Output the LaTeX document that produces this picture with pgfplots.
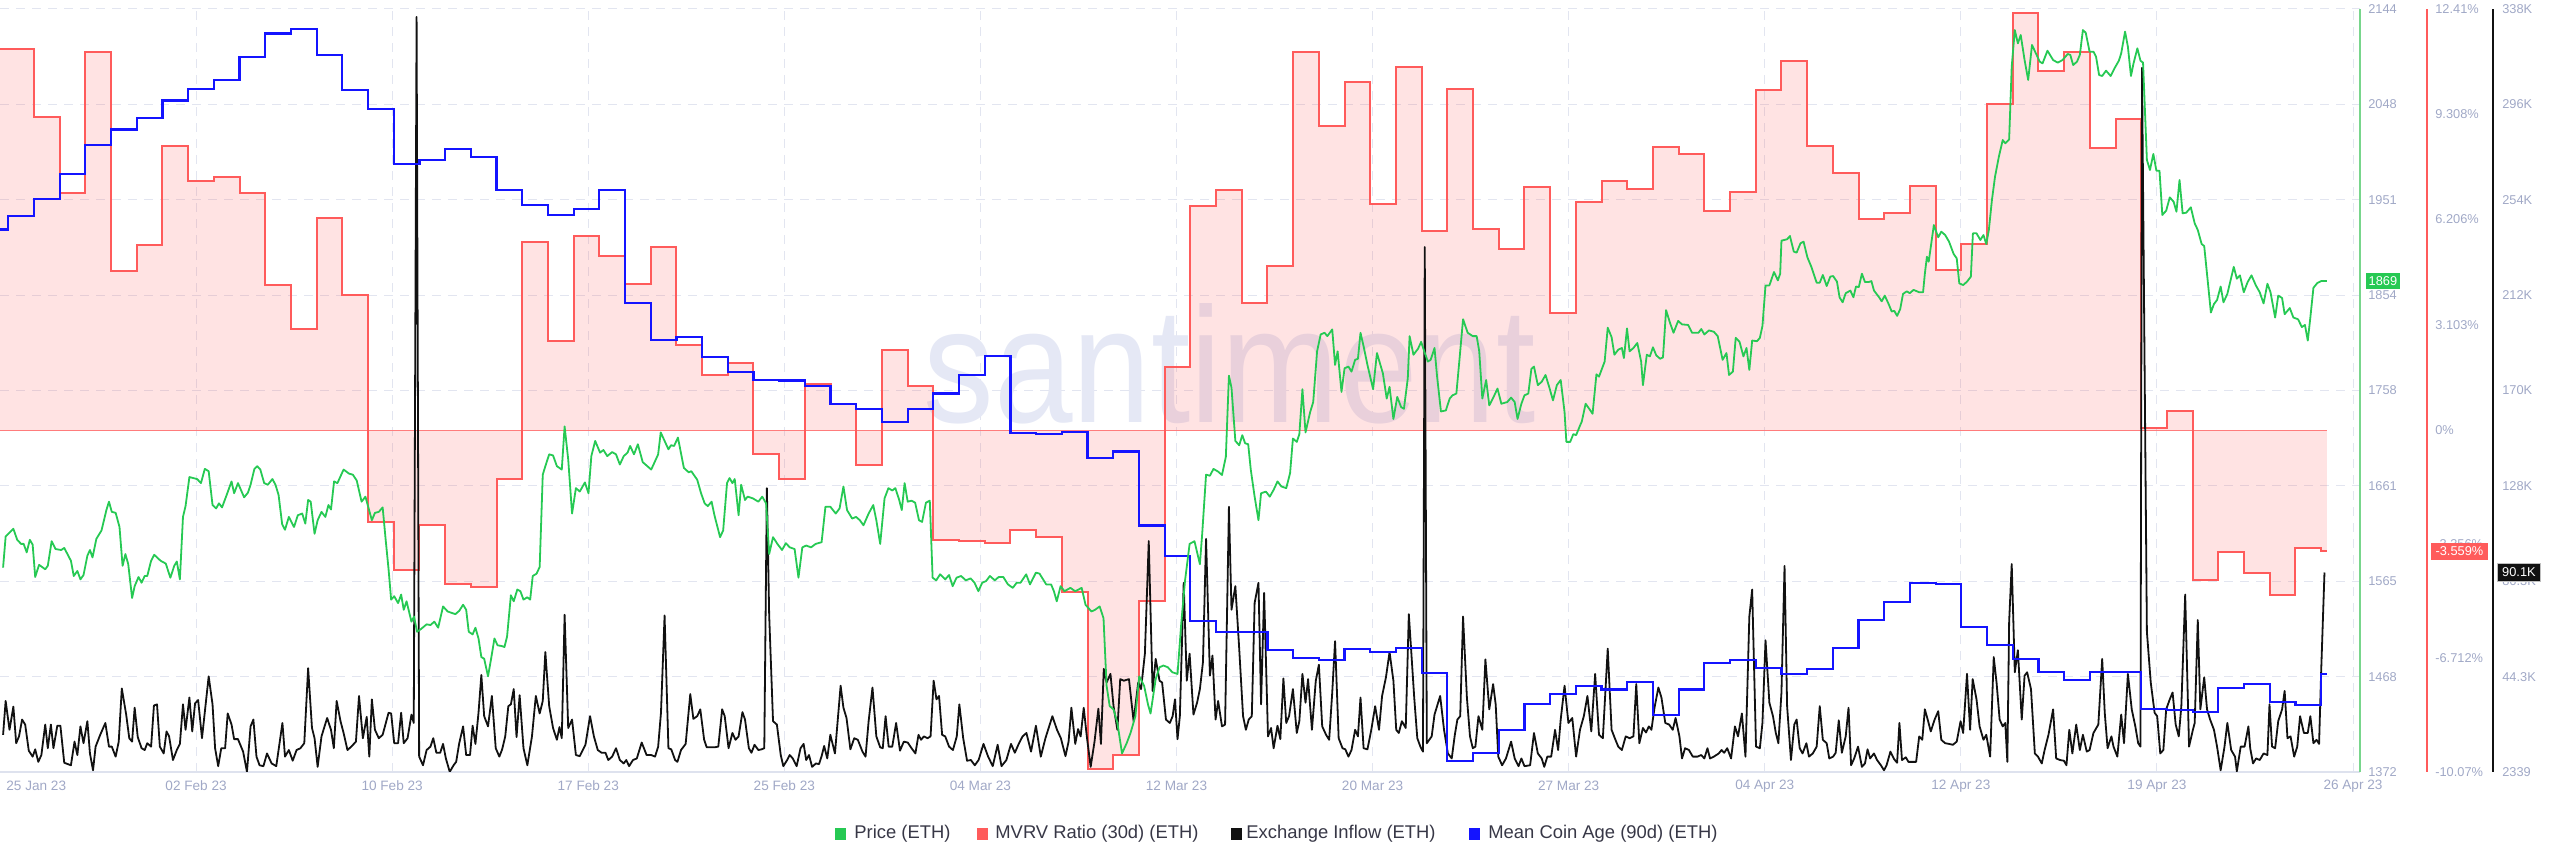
\documentclass[border=0pt]{standalone}
\usepackage{graphicx}
\usepackage{pgfplots}
\pgfplotsset{compat=1.18}
\usepackage{fontspec}
\setmainfont{Liberation Sans}

\definecolor{pricecol}{RGB}{38,201,83}
\definecolor{priceaxis}{RGB}{120,214,140}
\definecolor{mvrvcol}{RGB}{255,91,91}
\definecolor{flowcol}{RGB}{17,17,17}
\definecolor{agecol}{RGB}{20,20,255}
\definecolor{tickcol}{RGB}{160,168,198}
\definecolor{gridcol}{RGB}{226,229,240}
\definecolor{basecol}{RGB}{222,226,238}
\definecolor{wmcol}{RGB}{229,232,245}
\definecolor{legcol}{RGB}{55,55,70}

\pgfplotsset{
  base/.style={scale only axis, width=1180pt, height=381.5pt,
    at={(0pt,47.5pt)}, anchor=south west, xmin=0, xmax=91.83,
    clip mode=individual},
  hidden/.style={base, hide x axis, hide y axis},
  ticks/.style={/pgf/number format/assume math mode=true,
    tick label style={font=\fontsize{6.4}{7.5}\selectfont, text=tickcol},
    major tick length=0pt},
}

\begin{document}
\begin{tikzpicture}

% grid, date labels, price scale
\begin{axis}[base, ticks, ymin=1372, ymax=2144,
  axis x line*=bottom, axis y line*=right,
  x axis line style={draw=basecol, line width=0.6pt},
  y axis line style={draw=priceaxis, line width=0.9pt},
  xtick={7.63,15.26,22.89,30.52,38.15,45.78,53.41,61.04,68.67,76.30,83.93,91.56},
  xticklabels={02 Feb 23,10 Feb 23,17 Feb 23,25 Feb 23,04 Mar 23,12 Mar 23,20 Mar 23,27 Mar 23,04 Apr 23,12 Apr 23,19 Apr 23,26 Apr 23},
  ytick={1372,1468.5,1565,1661.5,1758,1854.5,1951,2047.5,2144},
  yticklabels={1372,1468,1565,1661,1758,1854,1951,2048,2144},
  grid=major,
  major grid style={draw=gridcol, dash pattern=on 4.5pt off 3.5pt, line width=0.5pt},
  xticklabel style={font=\fontsize{6.8}{8}\selectfont, anchor=center, yshift=-7pt, inner sep=0pt},
  yticklabel style={anchor=west, xshift=4pt, inner sep=0pt},
]
\end{axis}

% watermark
\node[anchor=base west, inner sep=0pt, text=wmcol] at (461.5pt,222pt)
  {\resizebox{306pt}{59.5pt}{santiment}};

% MVRV Ratio (30d)
\begin{axis}[base, ticks, ymin=-10.07, ymax=12.41, hide x axis,
  axis y line*=right, y axis line style={draw=none},
  ytick={-10.07,-6.712,-3.356,0,3.103,6.206,9.308,12.41},
  yticklabels={-10.07\%,-6.712\%,-3.356\%,0\%,3.103\%,6.206\%,9.308\%,12.41\%},
  yticklabel style={anchor=west, xshift=37.5pt, inner sep=0pt},
]
\addplot[const plot, draw=none, fill=mvrvcol, fill opacity=0.17] coordinates {
(0,11.23) (1.32,9.23) (2.32,6.99) (3.32,11.14) (4.32,4.69) (5.32,5.46) (6.32,8.37) (7.32,7.34) (8.32,7.46) (9.32,6.99)
(10.32,4.28) (11.32,2.98) (12.32,6.25) (13.32,3.98) (14.32,-2.70) (15.32,-4.12) (16.32,-2.79) (17.32,-4.53) (18.32,-4.62) (19.32,-1.44)
(20.32,5.54) (21.32,2.63) (22.32,5.72) (23.32,5.13) (24.32,4.31) (25.32,5.40) (26.32,2.51) (27.32,1.63) (28.32,1.98) (29.32,-0.70)
(30.32,-1.44) (31.32,1.36) (32.32,0.77) (33.32,-1.03) (34.32,2.36) (35.32,1.30) (36.32,-3.24) (37.32,-3.27) (38.32,-3.31) (39.32,-2.94)
(40.32,-3.16) (41.32,-4.77) (42.32,-9.97) (43.32,-9.57) (44.32,-5.03) (45.32,1.86) (46.32,6.61) (47.32,7.08) (48.32,3.75) (49.32,4.84)
(50.32,11.14) (51.32,8.96) (52.32,10.26) (53.32,6.66) (54.32,10.70) (55.32,5.87) (56.32,10.05) (57.32,5.93) (58.32,5.34) (59.32,7.17)
(60.32,3.45) (61.32,6.72) (62.32,7.34) (63.32,7.11) (64.32,8.34) (65.32,8.14) (66.32,6.46) (67.32,7.02) (68.32,10.02) (69.32,10.88)
(70.32,8.37) (71.32,7.58) (72.32,6.22) (73.32,6.40) (74.32,7.19) (75.32,4.72) (76.32,5.49) (77.32,9.61) (78.32,12.29) (79.32,10.58)
(80.32,11.14) (81.32,8.31) (82.32,9.17) (83.32,0.06) (84.32,0.57) (85.32,-4.41) (86.32,-3.59) (87.32,-4.21) (88.32,-4.86) (89.32,-3.47)
(90.32,-3.56) (90.54,-3.56)} \closedcycle;
\addplot[mvrvcol!80, line width=0.5pt] coordinates {(0,0) (90.54,0)};
\addplot[const plot, mvrvcol, line width=1pt] coordinates {
(0,11.23) (1.32,9.23) (2.32,6.99) (3.32,11.14) (4.32,4.69) (5.32,5.46) (6.32,8.37) (7.32,7.34) (8.32,7.46) (9.32,6.99)
(10.32,4.28) (11.32,2.98) (12.32,6.25) (13.32,3.98) (14.32,-2.70) (15.32,-4.12) (16.32,-2.79) (17.32,-4.53) (18.32,-4.62) (19.32,-1.44)
(20.32,5.54) (21.32,2.63) (22.32,5.72) (23.32,5.13) (24.32,4.31) (25.32,5.40) (26.32,2.51) (27.32,1.63) (28.32,1.98) (29.32,-0.70)
(30.32,-1.44) (31.32,1.36) (32.32,0.77) (33.32,-1.03) (34.32,2.36) (35.32,1.30) (36.32,-3.24) (37.32,-3.27) (38.32,-3.31) (39.32,-2.94)
(40.32,-3.16) (41.32,-4.77) (42.32,-9.97) (43.32,-9.57) (44.32,-5.03) (45.32,1.86) (46.32,6.61) (47.32,7.08) (48.32,3.75) (49.32,4.84)
(50.32,11.14) (51.32,8.96) (52.32,10.26) (53.32,6.66) (54.32,10.70) (55.32,5.87) (56.32,10.05) (57.32,5.93) (58.32,5.34) (59.32,7.17)
(60.32,3.45) (61.32,6.72) (62.32,7.34) (63.32,7.11) (64.32,8.34) (65.32,8.14) (66.32,6.46) (67.32,7.02) (68.32,10.02) (69.32,10.88)
(70.32,8.37) (71.32,7.58) (72.32,6.22) (73.32,6.40) (74.32,7.19) (75.32,4.72) (76.32,5.49) (77.32,9.61) (78.32,12.29) (79.32,10.58)
(80.32,11.14) (81.32,8.31) (82.32,9.17) (83.32,0.06) (84.32,0.57) (85.32,-4.41) (86.32,-3.59) (87.32,-4.21) (88.32,-4.86) (89.32,-3.47)
(90.32,-3.56) (90.54,-3.56)};
\coordinate (mvrvlast) at (axis cs:91.83,-3.559);
\end{axis}

% Exchange Inflow (thousands)
\begin{axis}[base, ticks, ymin=2.339, ymax=338, hide x axis,
  axis y line*=right, y axis line style={draw=none},
  ytick={2.339,44.297,86.254,128.212,170.169,212.127,254.085,296.042,338},
  yticklabels={2339,44.3K,86.3K,128K,170K,212K,254K,296K,338K},
  yticklabel style={anchor=west, xshift=71pt, inner sep=0pt},
]
\addplot[flowcol, line width=0.9pt, line join=round] coordinates {
(0.12,18.7) (0.22,33.6) (0.37,20.9) (0.52,31.1) (0.63,15.0) (0.74,18.0) (0.86,25.4) (0.98,23.2) (1.12,11.7) (1.27,9.1)
(1.37,12.3) (1.49,6.8) (1.61,9.8) (1.76,23.2) (1.86,12.8) (1.98,23.2) (2.08,12.8) (2.23,22.7) (2.35,22.7) (2.50,6.4)
(2.76,5.3) (2.90,15.7) (3.01,9.8) (3.13,22.4) (3.25,15.0) (3.40,24.7) (3.50,10.5) (3.62,3.1) (3.72,13.5) (3.90,18.7)
(4.10,23.9) (4.24,13.5) (4.35,13.5) (4.50,9.1) (4.62,15.7) (4.74,39.1) (4.91,27.6) (5.03,17.2) (5.14,15.7) (5.24,30.6)
(5.36,17.7) (5.51,12.8) (5.63,12.0) (5.73,15.0) (5.88,13.5) (5.99,31.6) (6.11,32.1) (6.22,13.5) (6.37,10.5) (6.48,20.2)
(6.58,18.0) (6.73,7.6) (6.88,12.0) (7.00,14.7) (7.12,32.1) (7.22,20.9) (7.37,35.1) (7.48,20.2) (7.59,32.5) (7.71,34.0)
(7.86,17.2) (8.12,44.4) (8.27,32.1) (8.37,12.8) (8.49,4.9) (8.61,12.8) (8.76,12.8) (8.86,28.1) (9.01,23.2) (9.11,16.8)
(9.26,16.8) (9.46,11.3) (9.61,2.4) (9.75,22.4) (9.86,25.4) (9.98,9.1) (10.10,5.3) (10.25,4.9) (10.39,10.5) (10.57,6.1)
(10.75,4.9) (10.99,23.9) (11.09,9.1) (11.24,12.0) (11.39,7.3) (11.54,12.0) (11.69,12.8) (11.84,15.0) (11.99,48.0) (12.14,21.7)
(12.24,17.2) (12.36,4.6) (12.51,18.0) (12.73,26.1) (12.88,20.9) (12.99,12.8) (13.10,33.6) (13.25,24.7) (13.37,19.5) (13.52,12.0)
(13.67,13.5) (13.85,15.7) (13.97,35.8) (14.12,17.2) (14.27,26.6) (14.37,9.1) (14.47,34.3) (14.59,20.9) (14.74,17.2) (14.89,18.7)
(15.12,28.4) (15.22,28.1) (15.34,15.0) (15.49,15.0) (15.61,28.4) (15.71,15.0) (15.86,17.2) (16.01,27.6) (16.10,23.9) (16.21,334.5)
(16.31,9.1) (16.46,5.3) (16.60,12.0) (16.75,13.5) (16.86,17.2) (16.98,10.8) (17.13,10.8) (17.24,14.7) (17.35,8.3) (17.50,2.4)
(17.65,5.3) (17.75,6.8) (17.87,15.0) (18.02,22.4) (18.14,9.8) (18.29,9.8) (18.39,22.7) (18.50,14.7) (18.62,28.4) (18.73,45.0)
(18.84,26.9) (18.99,22.4) (19.14,35.8) (19.29,12.8) (19.43,9.1) (19.54,12.3) (19.66,18.0) (19.78,31.3) (19.88,32.1) (19.99,38.8)
(20.10,17.7) (20.22,36.1) (20.37,12.8) (20.52,5.3) (20.70,18.0) (20.85,35.8) (21.00,28.1) (21.12,33.6) (21.22,55.1) (21.37,31.3)
(21.52,21.7) (21.67,16.5) (21.77,22.1) (21.86,17.2) (21.97,71.5) (22.11,21.7) (22.26,25.4) (22.41,9.8) (22.56,9.3) (22.78,14.3)
(22.96,26.9) (23.11,18.0) (23.26,12.0) (23.41,10.8) (23.56,10.8) (23.67,7.6) (23.82,9.1) (23.97,12.8) (24.12,7.6) (24.27,6.1)
(24.37,7.6) (24.48,4.9) (24.63,7.6) (24.78,8.3) (24.97,15.3) (25.16,9.8) (25.34,9.8) (25.49,9.1) (25.61,13.5) (25.72,28.4)
(25.86,71.2) (26.01,12.8) (26.12,12.3) (26.27,7.6) (26.36,6.8) (26.50,12.0) (26.68,14.7) (26.86,36.6) (26.98,25.7) (27.13,26.9)
(27.25,29.9) (27.40,16.5) (27.50,13.2) (27.65,13.2) (27.80,13.2) (27.95,13.5) (28.10,29.9) (28.20,26.9) (28.35,12.8) (28.50,19.5)
(28.62,16.5) (28.74,18.0) (28.89,28.7) (28.99,25.4) (29.14,12.8) (29.24,10.8) (29.36,14.3) (29.51,12.0) (29.63,12.3) (29.74,12.8)
(29.84,127.2) (29.93,71.5) (30.08,24.7) (30.23,23.2) (30.38,9.8) (30.48,4.9) (30.63,7.6) (30.73,9.8) (30.85,8.3) (31.00,4.9)
(31.15,12.8) (31.27,14.7) (31.37,7.6) (31.48,9.8) (31.60,4.6) (31.75,6.1) (31.87,5.8) (31.97,9.3) (32.07,13.8) (32.19,8.3)
(32.31,18.7) (32.49,10.5) (32.71,40.3) (32.82,30.6) (32.94,26.1) (33.09,12.3) (33.24,17.2) (33.38,16.5) (33.56,11.3) (33.68,9.1)
(33.80,24.7) (33.95,39.5) (34.10,18.0) (34.25,13.2) (34.35,12.8) (34.46,26.9) (34.58,13.5) (34.72,13.5) (34.87,23.9) (35.02,11.7)
(35.17,15.7) (35.32,15.3) (35.47,12.8) (35.62,10.5) (35.74,18.7) (35.84,16.5) (35.95,18.0) (36.09,17.2) (36.21,18.0) (36.33,42.5)
(36.44,34.3) (36.54,35.8) (36.66,18.7) (36.78,18.0) (36.93,13.5) (37.08,12.0) (37.23,18.0) (37.33,32.1) (37.48,17.2) (37.63,7.3)
(37.78,7.6) (37.93,5.3) (38.08,7.6) (38.27,14.7) (38.45,9.1) (38.63,4.9) (38.82,14.3) (38.97,4.9) (39.16,7.6) (39.34,14.7)
(39.49,10.8) (39.64,14.7) (39.79,18.0) (39.94,19.5) (40.12,11.3) (40.31,22.7) (40.50,9.1) (40.68,17.2) (40.95,26.9) (41.13,20.9)
(41.28,17.2) (41.46,9.3) (41.58,15.7) (41.69,30.6) (41.84,14.7) (41.95,21.2) (42.05,18.0) (42.17,30.6) (42.29,18.0) (42.44,4.6)
(42.59,15.7) (42.74,30.2) (42.84,14.7) (42.95,47.7) (43.06,41.7) (43.21,45.5) (43.33,31.3) (43.48,20.9) (43.59,43.2) (43.73,42.5)
(43.93,43.2) (44.11,24.7) (44.29,41.7) (44.40,38.8) (44.55,54.4) (44.70,103.9) (44.85,38.0) (44.97,52.1) (45.12,42.5) (45.22,41.7)
(45.37,25.4) (45.52,23.9) (45.63,26.9) (45.72,34.3) (45.82,16.8) (45.91,26.9) (46.06,85.6) (46.18,42.5) (46.29,54.4) (46.44,27.6)
(46.58,32.8) (46.69,38.8) (46.81,50.7) (46.93,104.9) (47.08,44.7) (47.18,53.6) (47.30,25.4) (47.40,33.6) (47.55,22.4) (47.67,23.2)
(47.82,119.0) (47.92,73.7) (48.07,84.1) (48.22,56.6) (48.37,26.9) (48.48,20.9) (48.59,25.4) (48.71,26.9) (48.82,76.7) (48.97,85.6)
(49.07,32.1) (49.19,81.1) (49.34,18.0) (49.46,21.7) (49.56,12.8) (49.71,22.7) (49.82,16.8) (49.94,43.5) (50.05,23.9) (50.16,26.9)
(50.31,38.8) (50.46,19.5) (50.56,24.7) (50.68,45.5) (50.80,32.8) (50.90,43.2) (51.05,20.9) (51.20,42.5) (51.32,49.5) (51.45,22.4)
(51.60,18.7) (51.72,16.5) (51.84,37.3) (51.95,59.9) (52.09,17.2) (52.24,12.8) (52.35,12.3) (52.47,9.1) (52.59,12.0) (52.73,20.9)
(52.84,18.0) (52.94,35.1) (53.06,12.8) (53.21,12.3) (53.36,20.9) (53.51,31.3) (53.66,20.9) (53.78,35.8) (53.93,44.0) (54.07,55.1)
(54.22,42.5) (54.33,20.9) (54.43,19.5) (54.55,24.7) (54.70,21.7) (54.82,71.8) (54.92,54.4) (55.03,35.1) (55.15,17.2) (55.27,13.5)
(55.37,11.3) (55.44,233.3) (55.52,15.0) (55.71,18.0) (55.82,27.6) (56.04,35.8) (56.19,20.9) (56.34,10.5) (56.49,8.3) (56.61,18.7)
(56.71,25.4) (56.82,26.9) (56.93,70.7) (57.08,35.1) (57.20,18.0) (57.31,12.8) (57.41,13.5) (57.53,26.9) (57.68,20.9) (57.80,51.9)
(57.95,29.9) (58.10,41.0) (58.20,32.1) (58.30,9.1) (58.45,5.3) (58.60,8.3) (58.80,15.7) (58.94,8.3) (59.09,4.9) (59.20,8.3)
(59.32,4.9) (59.54,5.3) (59.69,19.5) (59.84,10.5) (59.99,8.3) (60.09,4.6) (60.21,9.1) (60.36,9.1) (60.51,20.9) (60.63,12.0)
(60.73,25.4) (60.88,40.3) (61.03,23.9) (61.18,26.1) (61.33,9.1) (61.48,20.9) (61.63,26.9) (61.77,35.8) (61.92,20.2) (62.07,45.5)
(62.22,18.7) (62.37,17.2) (62.56,56.6) (62.71,20.9) (62.86,16.5) (62.97,13.5) (63.11,12.0) (63.26,18.0) (63.41,17.2) (63.56,18.0)
(63.67,41.0) (63.79,15.0) (63.93,21.7) (64.05,19.7) (64.16,22.4) (64.26,20.9) (64.38,30.6) (64.53,39.5) (64.65,35.1) (64.80,23.9)
(64.95,23.2) (65.09,20.9) (65.20,26.1) (65.35,18.0) (65.45,8.3) (65.57,12.8) (65.72,12.0) (65.87,9.1) (66.05,9.1) (66.20,9.8)
(66.32,8.3) (66.44,12.8) (66.54,8.3) (66.69,9.1) (66.88,10.5) (66.99,12.0) (67.09,10.8) (67.21,12.8) (67.36,8.3) (67.51,22.4)
(67.63,18.0) (67.78,28.1) (67.92,9.1) (68.07,70.7) (68.18,82.6) (68.33,13.5) (68.48,12.8) (68.58,23.9) (68.70,60.3) (68.85,32.8)
(68.99,26.9) (69.10,19.5) (69.20,15.0) (69.32,37.3) (69.44,93.0) (69.54,31.3) (69.69,7.6) (69.82,23.2) (69.91,25.4) (70.03,12.8)
(70.14,10.5) (70.29,15.0) (70.39,9.1) (70.54,10.5) (70.69,13.5) (70.81,31.3) (70.93,16.5) (71.08,15.0) (71.18,8.3) (71.33,9.1)
(71.43,10.8) (71.55,25.1) (71.67,10.8) (71.82,18.0) (71.93,30.6) (72.03,5.3) (72.15,8.3) (72.30,13.5) (72.45,4.6) (72.57,6.1)
(72.67,12.3) (72.77,8.3) (72.92,10.5) (73.04,7.6) (73.19,5.3) (73.31,3.1) (73.41,5.3) (73.56,11.3) (73.71,7.9) (73.82,6.4)
(73.91,23.9) (74.01,7.6) (74.16,8.8) (74.26,6.8) (74.41,6.8) (74.56,6.8) (74.68,18.0) (74.80,16.5) (74.90,29.9) (75.01,25.4)
(75.13,20.2) (75.28,25.4) (75.42,29.1) (75.54,16.5) (75.69,15.0) (75.84,14.7) (75.99,14.3) (76.14,15.7) (76.29,24.7) (76.39,19.5)
(76.54,45.5) (76.66,20.9) (76.76,43.2) (76.91,34.3) (77.03,22.4) (77.18,16.5) (77.29,18.7) (77.44,9.1) (77.58,52.9) (77.69,41.7)
(77.81,25.4) (77.93,22.4) (78.03,23.9) (78.11,6.8) (78.18,68.5) (78.28,93.8) (78.40,46.2) (78.52,55.9) (78.67,25.4) (78.78,44.7)
(78.88,46.2) (79.03,38.8) (79.18,10.5) (79.30,9.1) (79.45,6.1) (79.56,12.0) (79.71,18.7) (79.89,29.9) (80.01,8.3) (80.16,7.6)
(80.31,7.3) (80.41,5.3) (80.52,20.9) (80.64,10.5) (80.79,23.2) (80.93,12.0) (81.05,18.7) (81.20,11.3) (81.31,12.0) (81.46,19.5)
(81.65,23.2) (81.80,52.1) (81.90,28.4) (82.01,12.8) (82.16,18.0) (82.24,13.5) (82.39,9.1) (82.54,27.6) (82.65,15.0) (82.80,45.5)
(82.95,29.9) (83.09,22.4) (83.20,15.0) (83.29,13.5) (83.35,312.1) (83.54,64.0) (83.69,41.7) (83.84,28.4) (83.94,26.9) (84.06,10.5)
(84.18,12.0) (84.29,29.9) (84.43,34.3) (84.54,37.3) (84.66,23.2) (84.78,18.0) (84.88,31.3) (85.03,80.4) (85.18,13.5) (85.33,20.9)
(85.40,23.9) (85.52,69.2) (85.62,29.9) (85.77,44.0) (85.88,29.9) (86.00,25.4) (86.15,20.9) (86.27,13.5) (86.41,3.1) (86.56,13.5)
(86.67,23.9) (86.82,12.0) (86.97,9.1) (87.04,2.6) (87.19,13.5) (87.34,13.5) (87.49,22.4) (87.56,12.8) (87.67,6.1) (87.79,8.3)
(87.93,7.6) (88.08,10.5) (88.23,9.8) (88.31,32.1) (88.41,13.5) (88.53,12.8) (88.65,24.7) (88.80,29.9) (88.90,38.0) (89.01,17.2)
(89.13,18.0) (89.27,9.1) (89.39,13.5) (89.50,26.9) (89.65,19.5) (89.80,19.5) (89.90,26.9) (90.02,15.0) (90.14,16.5) (90.24,14.7)
(90.32,46.2) (90.45,90.1)};
\coordinate (flowlast) at (axis cs:91.83,90.1);
\end{axis}

% Mean Coin Age (90d), relative scale (axis not shown in the source)
\begin{axis}[hidden, ymin=0, ymax=100]
\addplot[const plot, agecol, line width=1.1pt] coordinates {
(0,71.1) (0.32,72.9) (1.32,75.1) (2.32,78.4) (3.32,82.2) (4.32,84.2) (5.32,85.7) (6.32,88.0) (7.32,89.5) (8.32,90.7)
(9.32,93.7) (10.32,96.8) (11.32,97.4) (12.32,94.0) (13.32,89.4) (14.32,86.9) (15.32,79.7) (16.32,80.2) (17.32,81.7) (18.32,80.6)
(19.32,76.3) (20.32,74.3) (21.32,73.0) (22.32,73.8) (23.32,76.3) (24.32,61.5) (25.32,56.6) (26.32,57.0) (27.32,54.4) (28.32,52.4)
(29.32,51.4) (30.32,51.3) (31.32,50.6) (32.32,48.2) (33.32,47.6) (34.32,45.9) (35.32,47.6) (36.32,49.6) (37.32,52.0) (38.32,54.5)
(39.32,44.4) (40.32,44.3) (41.32,44.6) (42.32,41.2) (43.32,42.0) (44.32,32.3) (45.32,28.3) (46.32,19.8) (47.32,18.4) (48.32,18.4)
(49.32,16.0) (50.32,14.9) (51.32,14.7) (52.32,16.1) (53.32,15.7) (54.32,16.3) (55.32,13.0) (56.32,1.4) (57.32,2.5) (58.32,5.5)
(59.32,8.9) (60.32,10.2) (61.32,11.3) (62.32,10.8) (63.32,11.8) (64.32,7.5) (65.32,10.8) (66.32,14.3) (67.32,14.7) (68.32,13.6)
(69.32,12.8) (70.32,13.5) (71.32,16.3) (72.32,19.9) (73.32,22.3) (74.32,24.8) (75.32,24.6) (76.32,19.0) (77.32,16.6) (78.32,14.8)
(79.32,13.1) (80.32,12.1) (81.32,13.1) (82.32,13.1) (83.32,8.3) (84.32,8.1) (85.32,7.9) (86.32,11.0) (87.32,11.5) (88.32,9.2)
(89.32,8.8) (90.32,12.8) (90.54,12.8)};
\end{axis}

% Price
\begin{axis}[hidden, ymin=1372, ymax=2144]
\addplot[pricecol, line width=0.9pt, line join=round] coordinates {
(0.12,1578.8) (0.22,1610.3) (0.52,1618.1) (0.67,1606.9) (0.82,1602.8) (0.92,1602.8) (1.04,1594.2) (1.16,1606.9) (1.27,1602.1) (1.37,1569.3)
(1.52,1581.6) (1.76,1577.1) (1.86,1580.6) (2.01,1605.5) (2.16,1597.6) (2.38,1596.6) (2.50,1598.7) (2.76,1585.7) (2.87,1570.3) (3.01,1575.4)
(3.13,1566.9) (3.25,1571.3) (3.40,1590.8) (3.50,1596.6) (3.60,1589.1) (3.75,1607.9) (3.95,1616.4) (4.14,1637.0) (4.24,1645.5) (4.35,1635.2)
(4.50,1634.2) (4.65,1619.9) (4.77,1580.6) (4.88,1592.5) (4.99,1582.3) (5.14,1548.1) (5.24,1560.0) (5.39,1569.3) (5.51,1563.5) (5.63,1570.3)
(5.73,1570.3) (5.88,1585.7) (6.00,1591.8) (6.25,1585.7) (6.45,1582.9) (6.63,1568.6) (6.78,1580.6) (6.88,1585.0) (7.00,1566.9) (7.12,1630.1)
(7.22,1641.0) (7.37,1670.4) (7.52,1669.4) (7.67,1668.4) (7.82,1664.3) (7.97,1678.7) (8.12,1676.3) (8.27,1642.1) (8.41,1638.7) (8.52,1643.8)
(8.64,1639.7) (8.82,1652.3) (9.01,1666.0) (9.11,1654.0) (9.26,1664.3) (9.50,1649.9) (9.65,1654.7) (9.75,1662.6) (9.90,1678.7) (10.01,1681.4)
(10.13,1678.0) (10.28,1664.3) (10.42,1662.6) (10.60,1668.4) (10.72,1662.6) (10.84,1652.3) (10.98,1622.6) (11.09,1617.1) (11.24,1630.1) (11.44,1619.9)
(11.59,1631.8) (11.76,1633.5) (11.88,1623.3) (11.99,1647.2) (12.09,1645.5) (12.24,1613.0) (12.36,1626.7) (12.51,1635.2) (12.66,1630.1) (12.78,1642.1)
(12.88,1637.6) (13.00,1666.0) (13.13,1664.3) (13.37,1678.0) (13.58,1673.9) (13.73,1672.8) (13.88,1667.0) (14.07,1645.5) (14.22,1650.6) (14.37,1636.3)
(14.47,1626.7) (14.59,1634.2) (14.74,1635.2) (14.89,1639.7) (15.01,1606.2) (15.12,1577.1) (15.22,1546.4) (15.34,1549.8) (15.49,1542.9) (15.61,1551.5)
(15.71,1536.1) (15.82,1544.7) (16.01,1524.1) (16.11,1529.3) (16.23,1513.9) (16.38,1516.6) (16.60,1521.4) (16.75,1520.7) (16.90,1524.1) (17.05,1518.0)
(17.24,1539.5) (17.42,1534.4) (17.72,1531.7) (17.87,1535.1) (18.02,1541.2) (18.14,1536.1) (18.24,1513.9) (18.39,1511.2) (18.50,1518.0) (18.62,1507.1)
(18.73,1488.3) (18.84,1486.6) (18.99,1468.8) (19.11,1486.6) (19.24,1507.1) (19.36,1500.2) (19.51,1499.5) (19.63,1498.5) (19.73,1508.8) (19.88,1550.8)
(19.99,1544.7) (20.13,1556.6) (20.25,1554.9) (20.37,1546.4) (20.52,1548.8) (20.63,1546.4) (20.73,1570.3) (20.88,1572.7) (21.00,1579.5) (21.12,1672.8)
(21.22,1681.4) (21.37,1693.4) (21.52,1692.3) (21.67,1681.4) (21.86,1678.0) (21.97,1721.7) (22.11,1688.2) (22.26,1633.5) (22.41,1659.2) (22.56,1655.8)
(22.76,1665.0) (22.90,1654.0) (23.01,1691.6) (23.16,1707.0) (23.35,1695.1)
(23.48,1697.8) (23.63,1691.6) (23.82,1695.7) (23.97,1693.4) (24.12,1683.1) (24.27,1691.6) (24.42,1695.1) (24.52,1701.9) (24.67,1693.4) (24.82,1703.6)
(25.01,1685.5) (25.19,1681.4) (25.34,1678.0) (25.52,1688.2) (25.61,1693.4) (25.71,1715.6) (25.86,1707.0) (26.01,1698.5) (26.11,1702.6) (26.23,1701.9)
(26.38,1710.4) (26.61,1679.7) (26.80,1675.2) (26.90,1676.3) (27.13,1667.7) (27.28,1654.0) (27.42,1643.8) (27.54,1641.0) (27.69,1645.5) (27.80,1631.8)
(28.02,1609.6) (28.14,1616.4) (28.29,1664.3) (28.39,1669.4) (28.50,1664.3) (28.59,1668.4) (28.74,1631.8) (28.84,1662.6) (28.99,1647.2) (29.09,1650.6)
(29.29,1648.9) (29.51,1645.5) (29.66,1650.6) (29.81,1643.8) (29.93,1592.5) (30.08,1609.6) (30.25,1602.8) (30.43,1596.6) (30.58,1603.5) (30.73,1599.3)
(30.92,1597.6) (31.07,1568.6) (31.22,1599.3) (31.37,1601.1) (31.56,1599.3) (31.74,1602.8) (31.97,1604.5) (32.12,1640.4) (32.31,1640.4) (32.52,1633.5)
(32.67,1638.7) (32.82,1660.9) (32.96,1637.0) (33.16,1628.4) (33.31,1630.1) (33.46,1626.7) (33.60,1621.6) (33.80,1633.5) (33.98,1642.1) (34.10,1626.7)
(34.25,1602.8) (34.42,1648.9) (34.57,1659.2) (34.72,1656.8) (34.84,1659.2) (34.99,1647.2) (35.09,1637.0) (35.20,1664.3) (35.32,1645.5) (35.47,1646.5)
(35.61,1644.5) (35.76,1626.7) (35.88,1625.0) (36.03,1644.5) (36.18,1646.5) (36.29,1568.6) (36.43,1565.9) (36.58,1572.0) (36.78,1566.9) (36.93,1571.3)
(37.07,1560.0) (37.22,1568.6) (37.40,1570.3) (37.58,1565.9) (37.77,1567.9) (37.92,1563.5) (38.07,1554.9) (38.22,1563.5) (38.37,1565.2) (38.52,1570.3)
(38.71,1565.9) (38.86,1569.3) (39.04,1569.3) (39.22,1561.8) (39.41,1558.3) (39.56,1563.5) (39.71,1563.5) (39.93,1572.0) (40.08,1561.8) (40.31,1573.7)
(40.45,1572.7) (40.71,1561.8) (40.90,1561.8) (41.01,1554.9) (41.12,1544.7) (41.27,1560.0) (41.42,1554.9) (41.65,1558.3) (41.84,1554.9) (42.09,1558.3)
(42.24,1541.2) (42.47,1534.4) (42.61,1536.1) (42.79,1539.5) (42.94,1527.6) (43.06,1459.2) (43.18,1438.7) (43.33,1435.3) (43.48,1421.6) (43.66,1390.8)
(43.84,1401.1) (43.99,1411.4) (44.18,1428.4) (44.33,1468.8) (44.52,1459.2) (44.67,1440.4) (44.77,1431.2) (44.97,1466.0) (45.12,1478.0) (45.27,1479.7)
(45.44,1478.0) (45.62,1472.9) (45.82,1471.2) (45.96,1520.7) (46.11,1565.2)
(46.29,1602.8) (46.48,1605.5) (46.69,1582.3) (46.78,1613.0) (46.93,1672.8) (47.08,1671.8) (47.22,1678.7) (47.40,1675.9) (47.55,1672.5) (47.70,1690.9)
(47.82,1773.0) (47.92,1760.7) (48.07,1707.0) (48.22,1702.6) (48.34,1712.8) (48.45,1704.6) (48.57,1703.6) (48.67,1678.0) (48.82,1650.6) (48.97,1626.7)
(49.07,1654.0) (49.26,1655.7) (49.41,1650.6) (49.56,1657.5) (49.71,1666.0) (49.86,1660.9) (50.05,1659.2) (50.20,1674.5) (50.31,1709.4) (50.46,1706.0)
(50.56,1713.8) (50.68,1759.3) (50.80,1715.6) (50.98,1736.1) (51.10,1746.3) (51.25,1797.6) (51.39,1814.7) (51.54,1816.4) (51.65,1813.0) (51.84,1819.8)
(51.95,1783.9) (52.05,1797.6) (52.20,1756.6) (52.32,1780.5) (52.47,1782.2) (52.59,1777.1) (52.73,1789.0) (52.84,1790.1) (52.94,1816.4) (53.06,1802.7)
(53.21,1783.9) (53.43,1759.3) (53.58,1795.9) (53.81,1775.4) (53.96,1749.8) (54.07,1761.7) (54.22,1729.2) (54.37,1751.5) (54.52,1741.2) (54.63,1739.5)
(54.78,1770.3) (54.85,1813.0) (55.00,1794.2) (55.18,1800.3) (55.30,1807.2) (55.42,1797.6) (55.56,1787.3) (55.67,1789.0) (55.82,1801.0) (55.92,1772.0)
(56.07,1736.8) (56.26,1737.8) (56.41,1749.8) (56.52,1753.1) (56.67,1754.9) (56.79,1789.0) (56.93,1830.1) (57.11,1816.4) (57.31,1813.0) (57.46,1813.0)
(57.56,1797.6) (57.68,1749.8) (57.83,1768.6) (57.95,1742.9) (58.10,1750.4) (58.27,1760.0) (58.42,1744.6) (58.65,1746.3) (58.80,1750.8) (58.94,1746.3)
(59.05,1729.2) (59.20,1744.6) (59.32,1753.1) (59.47,1754.9) (59.59,1779.8) (59.69,1782.2) (59.84,1763.4) (59.99,1766.8) (60.14,1773.7) (60.28,1761.7)
(60.43,1748.0) (60.58,1763.4) (60.73,1768.6) (60.88,1736.1) (60.95,1706.0) (61.10,1706.0) (61.22,1713.8) (61.33,1712.8) (61.48,1722.4) (61.55,1726.5)
(61.70,1744.6) (61.82,1740.2) (61.97,1734.4) (62.12,1774.4) (62.22,1772.0) (62.44,1787.3) (62.56,1821.5) (62.71,1812.0) (62.82,1794.2) (62.97,1799.3)
(63.11,1801.0) (63.19,1790.8) (63.31,1820.8) (63.41,1797.6) (63.56,1801.0) (63.71,1806.1) (63.86,1787.3) (63.93,1763.4) (64.08,1794.2) (64.20,1792.5)
(64.32,1801.7) (64.45,1793.5) (64.60,1790.1) (64.71,1791.5) (64.83,1839.3) (64.98,1826.7) (65.12,1816.4) (65.30,1828.4) (65.45,1824.9) (65.69,1824.3)
(65.84,1816.4) (66.09,1816.4) (66.20,1820.2) (66.32,1814.7) (66.50,1818.8) (66.69,1817.4) (66.84,1813.0) (67.03,1789.0) (67.18,1795.9) (67.28,1773.7)
(67.43,1777.1) (67.54,1811.3) (67.69,1807.2) (67.84,1792.5) (67.96,1801.0) (68.07,1778.8) (68.18,1808.5) (68.37,1807.9) (68.48,1811.3) (68.58,1823.2)
(68.70,1864.3) (68.85,1864.3) (69.03,1877.9) (69.18,1869.4) (69.27,1876.2)
(69.32,1909.6) (69.54,1911.0) (69.65,1914.3) (69.80,1898.5) (69.91,1897.5) (70.06,1906.9) (70.18,1908.6) (70.33,1892.7) (70.48,1883.3) (70.69,1867.1)
(70.81,1867.1) (70.93,1874.9) (71.08,1863.7) (71.22,1873.2) (71.33,1873.8) (71.48,1868.1) (71.58,1852.3) (71.70,1847.2) (71.82,1856.4) (72.00,1859.1)
(72.12,1852.3) (72.22,1863.2) (72.33,1862.6) (72.45,1876.2) (72.57,1867.7) (72.71,1867.7) (72.82,1868.7) (72.92,1859.1) (73.12,1852.3) (73.22,1848.2)
(73.34,1854.0) (73.49,1845.5) (73.61,1837.9) (73.71,1838.6) (73.82,1833.5) (73.94,1840.3) (74.05,1855.7) (74.20,1858.4) (74.31,1856.4) (74.46,1859.8)
(74.68,1857.4) (74.83,1857.4) (74.90,1876.2) (74.98,1893.3) (75.05,1888.3) (75.25,1925.4) (75.42,1913.0) (75.54,1918.7) (75.69,1915.3) (75.84,1908.6)
(76.02,1896.1) (76.14,1891.7) (76.24,1866.4) (76.39,1864.7) (76.54,1868.1) (76.69,1873.2) (76.77,1917.0) (76.91,1917.0) (77.06,1910.3) (77.18,1915.3)
(77.29,1906.2) (77.39,1920.4) (77.51,1950.7) (77.63,1974.3) (77.78,1994.6) (77.93,2011.4) (78.03,2008.1) (78.18,2012.1) (78.28,2085.6) (78.40,2122.7)
(78.52,2109.2) (78.63,2117.7) (78.78,2092.4) (78.92,2072.2) (79.07,2107.6) (79.22,2099.1) (79.37,2090.7) (79.48,2089.0) (79.67,2101.8) (79.89,2092.4)
(80.07,2089.7) (80.26,2092.4) (80.46,2098.5) (80.56,2097.5) (80.67,2087.3) (80.82,2090.7) (80.93,2097.5) (81.05,2122.7) (81.16,2120.0) (81.31,2100.8)
(81.46,2100.8) (81.56,2095.8) (81.68,2077.2) (81.80,2076.2) (81.95,2081.6) (82.13,2076.2) (82.28,2084.0) (82.45,2091.7) (82.54,2099.1) (82.69,2121.1)
(82.80,2105.9) (82.92,2076.2) (83.02,2089.0) (83.17,2104.2) (83.29,2091.7) (83.39,2089.7) (83.54,1991.2) (83.66,1981.1) (83.79,1997.3) (83.91,1980.4)
(84.03,1980.4) (84.14,1935.6) (84.29,1939.9) (84.43,1953.4) (84.58,1949.0) (84.69,1938.9) (84.81,1971.0) (84.93,1937.3) (85.07,1937.9) (85.25,1943.3)
(85.40,1927.1) (85.52,1920.4) (85.67,1906.2) (85.77,1904.2) (86.03,1836.9) (86.15,1845.5) (86.27,1849.6) (86.41,1863.2) (86.52,1847.2) (86.67,1855.7)
(86.92,1883.1) (87.04,1871.1) (87.16,1874.5) (87.31,1857.4) (87.46,1867.7) (87.61,1874.5) (87.78,1864.3) (87.93,1857.4) (88.08,1846.1) (88.23,1866.0)
(88.35,1857.4) (88.53,1831.8) (88.65,1854.0) (88.80,1851.6) (88.90,1835.2) (89.10,1841.4) (89.24,1831.8) (89.42,1830.1) (89.57,1822.2) (89.69,1824.3)
(89.80,1808.5) (89.90,1831.8) (90.02,1861.9) (90.17,1866.7) (90.32,1868.7) (90.54,1868.7)};
\coordinate (pricelast) at (axis cs:91.83,1869);
\end{axis}

% extra y axis lines
\draw[mvrvcol, line width=0.6pt] (1213.5pt,47.5pt) -- (1213.5pt,429pt);
\draw[flowcol, line width=0.7pt] (1246.5pt,47.5pt) -- (1246.5pt,429pt);

% last-value boxes
\node[fill=pricecol, text=white, font=\fontsize{6.4}{7.5}\selectfont, inner xsep=1.6pt, inner ysep=0pt,
  minimum height=8pt] at ([xshift=11.5pt]pricelast) {1869};
\node[fill=mvrvcol, text=white, font=\fontsize{6.4}{7.5}\selectfont, inner xsep=2.3pt, inner ysep=0pt,
  minimum height=8.5pt] at ([xshift=49.75pt]mvrvlast) {-3.559\%};
\node[fill=flowcol, draw=gray!50, line width=0.3pt, text=white, font=\fontsize{6.4}{7.5}\selectfont,
  inner xsep=2.5pt, inner ysep=0pt, minimum height=9pt] at ([xshift=79.5pt]flowlast) {90.1K};

% first date label, kept inside the plot edge
\node[anchor=west, inner sep=0pt, font=\fontsize{6.8}{8}\selectfont, text=tickcol] at (3pt,40.5pt) {25 Jan 23};

% legend
\begin{scope}[every node/.style={font=\fontsize{9.2}{11}\selectfont, text=legcol, inner sep=0pt}]
\node[fill=pricecol, minimum width=5.5pt, minimum height=6pt] at (420.25pt,16.5pt) {};
\node[anchor=west] at (427pt,16.5pt) {Price (ETH)};
\node[fill=mvrvcol, minimum width=5.5pt, minimum height=6pt] at (491.25pt,16.5pt) {};
\node[anchor=west] at (497.5pt,16.5pt) {MVRV Ratio (30d) (ETH)};
\node[fill=flowcol, minimum width=5.5pt, minimum height=6pt] at (618pt,16.5pt) {};
\node[anchor=west] at (623pt,16.5pt) {Exchange Inflow (ETH)};
\node[fill=agecol, minimum width=5.5pt, minimum height=6pt] at (737.25pt,16.5pt) {};
\node[anchor=west] at (744pt,16.5pt) {Mean Coin Age (90d) (ETH)};
\end{scope}

\pgfresetboundingbox
\path[use as bounding box] (0,0) rectangle (1280pt,433.5pt);
\end{tikzpicture}
\end{document}
